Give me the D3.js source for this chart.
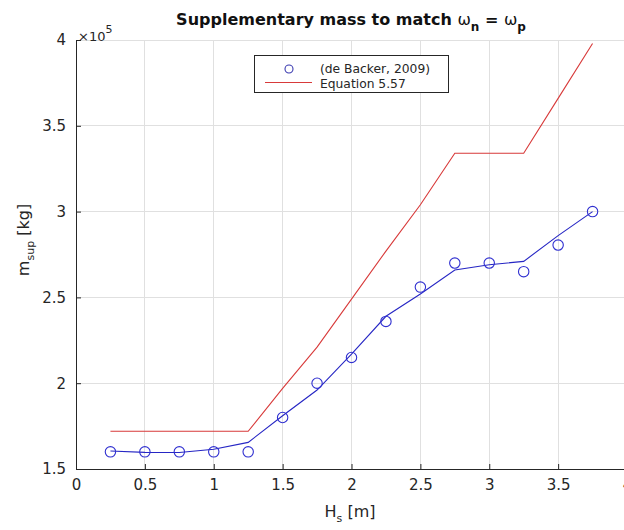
<!DOCTYPE html>
<html><head><meta charset="utf-8">
<script src="https://cdn.jsdelivr.net/npm/d3@7"></script>
<style>body{margin:0;background:#fff;} svg{display:block;}</style>
</head><body>
<svg id="chart" width="624" height="530"></svg>
<script>
const hs = [0.25,0.5,0.75,1.0,1.25,1.5,1.75,2.0,2.25,2.5,2.75,3.0,3.25,3.5,3.75];
const backer = [160000,160000,160000,160000,160000,180000,200000,215000,236000,256000,270000,270000,265000,280500,300000];
const backerFit = [160500,159700,159600,161500,165500,181000,196000,217000,239000,252000,266000,269000,271000,286000,300000];
const equation = [172000,172000,172000,172000,172000,197000,221000,249000,277000,304000,334000,334000,334000,366000,398000];
const xTicks = [0,0.5,1,1.5,2,2.5,3,3.5,4];
const yTicks = [150000,200000,250000,300000,350000,400000];
const legendLabels = ["(de Backer, 2009)","Equation 5.57"];

const svg = d3.select("#chart");
const x = d3.scaleLinear().domain([0,4]).range([76,627]);
const y = d3.scaleLinear().domain([150000,400000]).range([469,40]);
const font = "DejaVu Sans, Arial, sans-serif";
const axisCol = "#262626";

// grid
const g = svg.append("g");
g.selectAll(".gx").data(xTicks.slice(1)).join("line")
  .attr("x1",d=>x(d)).attr("x2",d=>x(d)).attr("y1",y(150000)).attr("y2",y(400000))
  .attr("stroke","#e0e0e0").attr("stroke-width",1).attr("shape-rendering","crispEdges");
g.selectAll(".gy").data(yTicks.slice(1)).join("line")
  .attr("x1",x(0)).attr("x2",x(4)).attr("y1",d=>y(d)).attr("y2",d=>y(d))
  .attr("stroke","#e0e0e0").attr("stroke-width",1).attr("shape-rendering","crispEdges");

// axes
const xAxis = d3.axisBottom(x).tickValues(xTicks).tickSize(-5).tickPadding(10).tickFormat(d3.format("~g"));
const yAxis = d3.axisLeft(y).tickValues(yTicks).tickSize(-5).tickPadding(10).tickFormat(d=>d3.format("~g")(d/1e5));
const gx = svg.append("g").attr("transform",`translate(0,${y(150000)})`).call(xAxis);
const gy = svg.append("g").attr("transform",`translate(${x(0)},0)`).call(yAxis);
[gx,gy].forEach(a=>{
  a.select(".domain").attr("stroke",axisCol).attr("stroke-width",1);
  a.selectAll(".tick line").attr("stroke",axisCol);
  a.selectAll(".tick text").attr("fill",axisCol).attr("font-family",font).attr("font-size",15);
});
gx.select(".domain").attr("d",`M${x(0)},0.5H${x(4)}`);
gy.select(".domain").attr("d",`M0.5,${y(150000)}V${y(400000)}`);

// exponent
const ex = svg.append("text").attr("x",78).attr("y",41).attr("font-family",font).attr("font-size",13).attr("fill",axisCol);
ex.append("tspan").text("\u00d710");
ex.append("tspan").attr("dy",-8).attr("font-size",11).text("5");

// lines
const line = d3.line().x((d,i)=>x(hs[i])).y(d=>y(d));
svg.append("path").datum(equation).attr("d",line).attr("fill","none").attr("stroke","#d83a3a").attr("stroke-width",1.1);
svg.append("path").datum(backerFit).attr("d",line).attr("fill","none").attr("stroke","#2626c4").attr("stroke-width",1.1);
svg.selectAll(".pt").data(backer).join("circle")
  .attr("cx",(d,i)=>x(hs[i])).attr("cy",d=>y(d)).attr("r",5.2)
  .attr("fill","none").attr("stroke","#3030d0").attr("stroke-width",1.1);

// title
const t = svg.append("text").attr("x",351).attr("y",25).attr("text-anchor","middle")
  .attr("font-family",font).attr("font-size",16).attr("font-weight","bold").attr("fill","#111");
t.append("tspan").text("Supplementary mass to match ");
t.append("tspan").attr("font-weight","normal").text("\u03c9");
t.append("tspan").attr("dy",6).attr("font-size",12).text("n");
t.append("tspan").attr("dy",-6).text(" = ");
t.append("tspan").attr("font-weight","normal").text("\u03c9");
t.append("tspan").attr("dy",6).attr("font-size",12).text("p");

// axis labels
const xl = svg.append("text").attr("x",350).attr("y",517).attr("text-anchor","middle")
  .attr("font-family",font).attr("font-size",16).attr("fill",axisCol);
xl.append("tspan").text("H");
xl.append("tspan").attr("dy",5).attr("font-size",11).text("s");
xl.append("tspan").attr("dy",-5).text(" [m]");
const yl = svg.append("text").attr("transform","translate(29,240) rotate(-90)").attr("text-anchor","middle")
  .attr("font-family",font).attr("font-size",16).attr("fill",axisCol);
yl.append("tspan").text("m");
yl.append("tspan").attr("dy",5).attr("font-size",11).text("sup");
yl.append("tspan").attr("dy",-5).text(" [kg]");

// legend
const lg = svg.append("g");
lg.append("rect").attr("x",254.5).attr("y",55.5).attr("width",194).attr("height",37)
  .attr("fill","#fff").attr("stroke",axisCol).attr("stroke-width",1);
lg.append("circle").attr("cx",289).attr("cy",69).attr("r",4).attr("fill","none").attr("stroke","#3a3ab0").attr("stroke-width",1.1);
lg.append("line").attr("x1",265).attr("x2",312).attr("y1",82.5).attr("y2",82.5).attr("stroke","#d83a3a").attr("stroke-width",1.1);
lg.selectAll(".lt").data(legendLabels).join("text")
  .attr("x",320).attr("y",(d,i)=>73+i*14.8).attr("font-family",font).attr("font-size",12.3).attr("fill",axisCol).text(d=>d);
</script>
</body></html>
